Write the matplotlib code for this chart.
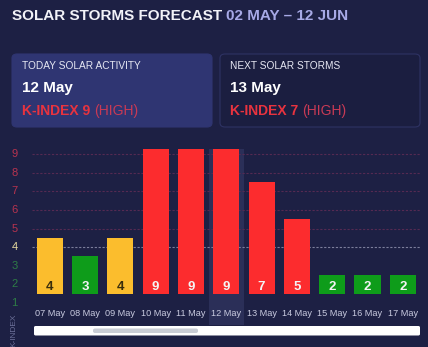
import numpy as np
import matplotlib.pyplot as plt
import matplotlib.transforms as mtransforms
from matplotlib.patches import FancyBboxPatch

plt.rcParams['font.family'] = ['Liberation Sans', 'DejaVu Sans']

# K-index forecast per day
days = ['07 May', '08 May', '09 May', '10 May', '11 May', '12 May',
        '13 May', '14 May', '15 May', '16 May', '17 May']
kindex = [4, 3, 4, 9, 9, 9, 7, 5, 2, 2, 2]
today = '12 May'
next_storm = '13 May'
levels = list(range(1, 10))

BG = '#1d2044'
RED, YELLOW, GREEN = '#fc2c2e', '#fbbd2d', '#0e9c1a'


def level_color(k):
    if k >= 5:
        return RED
    if k == 4:
        return YELLOW
    return GREEN


fig = plt.figure(figsize=(4.28, 3.47), dpi=100, facecolor=BG)


def text_after(t, gap, y, s, **kw):
    # place a second text right after the first one
    fig.canvas.draw()
    bb = t.get_window_extent()
    return fig.text((bb.x1 + gap) / 428, y, s, **kw)


# header
t = fig.text(12 / 428, 1 - 16 / 347, 'SOLAR STORMS FORECAST', color='#f2f2f8',
             fontsize=11, fontweight='bold', va='center', ha='left')
text_after(t, 4, 1 - 16 / 347, '02 MAY \u2013 12 JUN', color='#a7a9e6',
           fontsize=11, fontweight='bold', va='center', ha='left')

# summary cards
cards = [
    (12, 'TODAY SOLAR ACTIVITY', today, '#2f3572', '#2f3572'),
    (220, 'NEXT SOLAR STORMS', next_storm, '#1b1e40', '#2e3263'),
]
for x0, head, day, fc, ec in cards:
    k = kindex[days.index(day)]
    box = FancyBboxPatch((x0 / 428, 1 - 127 / 347), 200 / 428, 73 / 347,
                         boxstyle='round,pad=0,rounding_size=0.012',
                         transform=fig.transFigure, facecolor=fc, edgecolor=ec,
                         linewidth=0.8)
    fig.patches.append(box)
    fig.text((x0 + 10) / 428, 1 - 66 / 347, head, color='#e6e7f2', fontsize=7.3,
             va='center', ha='left')
    fig.text((x0 + 10) / 428, 1 - 88 / 347, day, color='white', fontsize=11,
             fontweight='bold', va='center', ha='left')
    t = fig.text((x0 + 10) / 428, 1 - 111 / 347, f'K-INDEX {k}', color='#e8333f',
                 fontsize=10, fontweight='bold', va='center', ha='left')
    text_after(t, 4, 1 - 111 / 347, '(HIGH)', color='#c93a55',
               fontsize=10, va='center', ha='left')

# bar chart
ax = fig.add_axes([32 / 428, 1 - 306.7 / 347, 388.5 / 428, 157.7 / 347])
ax.set_facecolor(BG)
x = np.arange(len(days))
colors = [level_color(k) for k in kindex]

# highlighted column for today
ti = days.index(today)
ax.axvspan(ti - 0.5, ti + 0.5, ymin=-0.116, ymax=1, color='#2b2f58',
           zorder=0, clip_on=False, lw=0)

ax.bar(x, np.array(kindex) - 1, bottom=1, width=0.74, color=colors, zorder=2)
for xi, k, c in zip(x, kindex, colors):
    ax.text(xi, 1.36, str(k), ha='center', va='center', fontsize=9.5,
            fontweight='bold', color='#3a2e0c' if c == YELLOW else '#f4f4f4',
            zorder=3)

# grid lines and coloured level labels
lab_tr = mtransforms.blended_transform_factory(fig.transFigure, ax.transData)
for k in levels:
    yk = k - 0.5
    if k >= 5:
        ax.axhline(yk, color='#552a52', lw=0.8, ls=(0, (2, 1.5)), zorder=1)
    elif k == 4:
        ax.axhline(yk, color='#7c7e9c', lw=0.8, ls=(0, (2, 1.5)), zorder=1)
    lc = {RED: '#b8334f', YELLOW: '#e8dba0', GREEN: '#2e7d46'}[level_color(k)]
    ax.text(14.5 / 428, yk, str(k), transform=lab_tr, clip_on=False,
            ha='center', va='center', fontsize=8, color=lc)

ax.set_xlim(-0.5, len(days) - 0.5)
ax.set_ylim(0.3, 8.78)
ax.set_xticks(x)
ax.set_xticklabels(days, fontsize=6.6, color='#c9cbe0')
ax.tick_params(axis='x', length=0, pad=2)
ax.set_yticks([])
for s in ax.spines.values():
    s.set_visible(False)

fig.text(14 / 428, 1 - 330 / 347, 'K-INDEX', rotation=90, color='#6b6f98',
         fontsize=6, ha='center', va='center')

# scrollbar under the chart
fig.patches.append(FancyBboxPatch((34 / 428, 1 - 335.5 / 347), 386 / 428, 9.5 / 347,
                                  boxstyle='round,pad=0,rounding_size=0.004',
                                  transform=fig.transFigure, facecolor='white',
                                  edgecolor='none'))
fig.patches.append(FancyBboxPatch((93 / 428, 1 - 333 / 347), 105 / 428, 4.5 / 347,
                                  boxstyle='round,pad=0,rounding_size=0.005',
                                  transform=fig.transFigure, facecolor='#c9cdd5',
                                  edgecolor='none'))

fig.savefig('out.png', dpi=100, facecolor=BG)
